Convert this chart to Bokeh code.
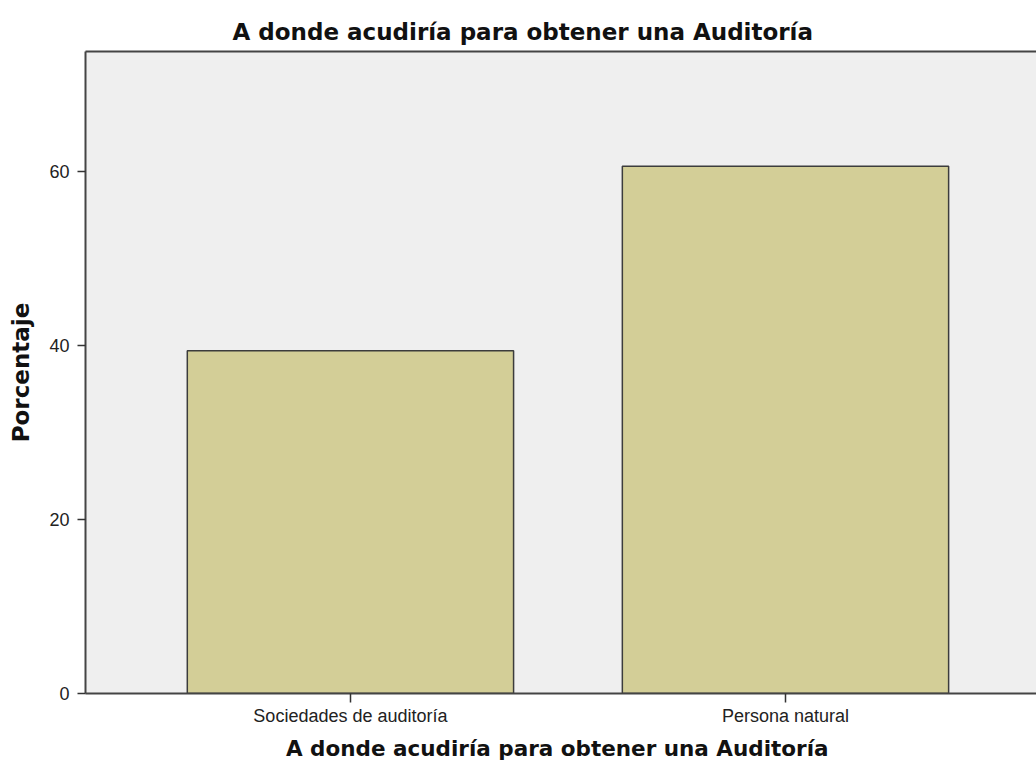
from bokeh.plotting import figure
from bokeh.models import Range1d, FixedTicker, LinearAxis, ColumnDataSource, Title
from bokeh.embed import file_html
from bokeh.resources import INLINE

# Data
categories = ["Sociedades de auditoría", "Persona natural"]
percentages = [39.4, 60.6]
y_ticks = [0, 20, 40, 60]

title_text = "A donde  acudiría para obtener una Auditoría"
x_label = "A donde  acudiría para obtener una Auditoría"
y_label = "Porcentaje"

positions = list(range(len(categories)))
source = ColumnDataSource(dict(x=positions, top=percentages, cat=categories))

p = figure(
    width=1036, height=763,
    output_backend="svg", toolbar_location=None,
    x_range=Range1d(-0.609, 1.577), y_range=Range1d(0, 73.8),
    min_border_left=85, min_border_right=0, min_border_top=51, min_border_bottom=70,
    background_fill_color="#EFEFEF", border_fill_color="white",
    outline_line_color=None,
)

p.vbar(x="x", top="top", bottom=0, width=0.75, source=source,
       fill_color="#D3CE97", line_color="#3c3c3c", line_width=1.5)

p.xgrid.grid_line_color = None
p.ygrid.grid_line_color = None

# y axis
ya = p.yaxis[0]
ya.ticker = FixedTicker(ticks=y_ticks)
ya.minor_tick_line_color = None
ya.major_tick_in = 0
ya.major_tick_out = 8
ya.major_tick_line_color = "#333333"
ya.major_tick_line_width = 1.5
ya.axis_line_color = "#444444"
ya.axis_line_width = 2
ya.major_label_text_font = "Liberation Sans"
ya.major_label_text_font_size = "18px"
ya.major_label_text_color = "#222222"
ya.major_label_standoff = 8
ya.axis_label = y_label
ya.axis_label_text_font = "DejaVu Sans"
ya.axis_label_text_font_style = "bold"
ya.axis_label_text_font_size = "23px"
ya.axis_label_text_color = "#111111"
ya.axis_label_standoff = 12

# x axis
xa = p.xaxis[0]
xa.ticker = FixedTicker(ticks=positions)
xa.major_label_overrides = {i: c for i, c in zip(positions, categories)}
xa.minor_tick_line_color = None
xa.major_tick_in = 0
xa.major_tick_out = 9
xa.major_tick_line_color = "#333333"
xa.major_tick_line_width = 1.5
xa.axis_line_color = "#444444"
xa.axis_line_width = 2
xa.major_label_text_font = "Liberation Sans"
xa.major_label_text_font_size = "18px"
xa.major_label_text_color = "#222222"
xa.major_label_standoff = 3
xa.axis_label = x_label
xa.axis_label_text_font = "DejaVu Sans"
xa.axis_label_text_font_style = "bold"
xa.axis_label_text_font_size = "21.5px"
xa.axis_label_text_color = "#111111"
xa.axis_label_standoff = 7

# top border line
top_axis = LinearAxis(ticker=FixedTicker(ticks=[]), axis_line_color="#444444",
                      axis_line_width=2, major_tick_line_color=None,
                      minor_tick_line_color=None, major_label_text_color=None)
p.add_layout(top_axis, "above")

p.add_layout(Title(text=title_text, align="left", offset=147,
                   text_font="DejaVu Sans", text_font_style="bold",
                   text_font_size="23px", text_color="#111111", standoff=14), "above")

open("out.html", "w").write(file_html(p, INLINE))
